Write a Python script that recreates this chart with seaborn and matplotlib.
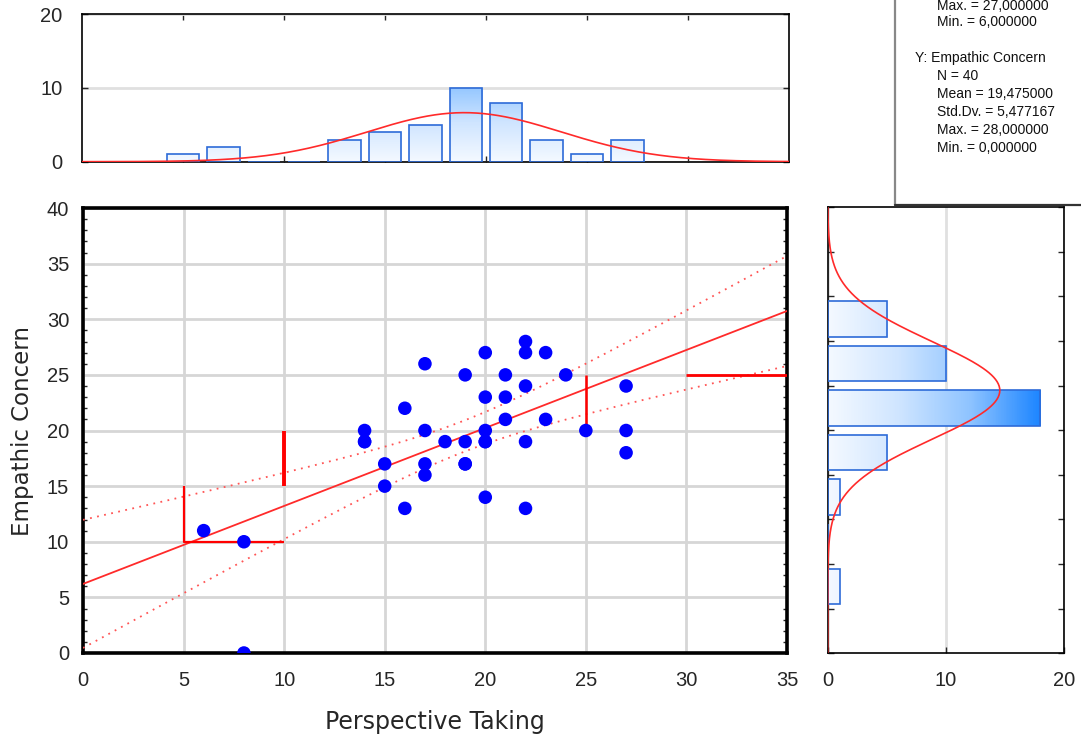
import numpy as np
import pandas as pd
import matplotlib
matplotlib.use("Agg")
import matplotlib.pyplot as plt
import seaborn as sns
from matplotlib.colors import LinearSegmentedColormap
from matplotlib.lines import Line2D

# ---------------- data ----------------
perspective_taking = [6, 8, 8, 14, 14, 14, 15, 15, 16, 16, 17, 17, 17, 17, 18,
                      19, 19, 19, 19, 20, 20, 20, 20, 20, 20, 21, 21, 21,
                      22, 22, 22, 22, 22, 23, 23, 24, 25, 27, 27, 27]
empathic_concern = [11, 10, 0, 20, 19, 19, 17, 15, 22, 13, 26, 20, 17, 16, 19,
                    25, 19, 17, 17, 27, 23, 20, 19, 19, 14, 25, 23, 21,
                    28, 27, 24, 19, 13, 27, 21, 25, 20, 24, 20, 18]

x_ticks = [0, 5, 10, 15, 20, 25, 30, 35]
y_ticks = [0, 5, 10, 15, 20, 25, 30, 35, 40]
top_hist_yticks = [0, 10, 20]
right_hist_xticks = [0, 10, 20]

# red step segments drawn in the scatter panel
step_x = [[5, 5, 10], [10, 10], [25, 25], [30, 35]]
step_y = [[15, 10, 10], [15, 20], [20, 25], [25, 25]]
step_w = [1.6, 2.8, 1.8, 2.0]

stats_lines = ["Max. = 27,000000", "Min. = 6,000000", "",
               "Y: Empathic Concern", "N = 40", "Mean = 19,475000",
               "Std.Dv. = 5,477167", "Max. = 28,000000", "Min. = 0,000000"]

# ---------------- style ----------------
sns.set_theme(style="white")
plt.rcParams["font.family"] = ["Liberation Sans", "DejaVu Sans"]

df = pd.DataFrame({"Perspective Taking": perspective_taking,
                   "Empathic Concern": empathic_concern})

W, H = 1081, 740
fig = plt.figure(figsize=(W / 100, H / 100), dpi=100)

def px_axes(l, t, r, b):
    return fig.add_axes([l / W, (H - b) / H, (r - l) / W, (b - t) / H])

ax = px_axes(83, 208, 787, 653)
axt = px_axes(82, 14, 789, 161.7)
axr = px_axes(827.7, 207.3, 1064, 653.3)

cmap = LinearSegmentedColormap.from_list("bl", ["#f4f9ff", "#cfe5ff", "#8fc4ff", "#1e86ff"])
edge_col = "#2d6bd8"
red = "#ff2a2a"

x = np.array(perspective_taking, float)
y = np.array(empathic_concern, float)
n = len(x)

# ---------------- scatter ----------------
ax.set_axisbelow(True)
ax.grid(True, color="#d6d6d6", lw=2)
sns.scatterplot(data=df, x="Perspective Taking", y="Empathic Concern", ax=ax,
                color="#0000ff", s=95, edgecolor="none", zorder=5)

slope, intercept = np.polyfit(x, y, 1)
xx = np.linspace(0, 35, 300)
yy = intercept + slope * xx
resid = y - (intercept + slope * x)
s_res = np.sqrt(np.sum(resid ** 2) / (n - 2))
sxx = np.sum((x - x.mean()) ** 2)
tval = 2.0244
half = tval * s_res * np.sqrt(1 / n + (xx - x.mean()) ** 2 / sxx)
ax.plot(xx, yy, color=red, lw=1.3, zorder=4)
ax.plot(xx, yy + half, color="#ff5555", lw=1.3, ls=(0, (1, 3)), zorder=4)
ax.plot(xx, yy - half, color="#ff5555", lw=1.3, ls=(0, (1, 3)), zorder=4)

for sx_, sy_, sw in zip(step_x, step_y, step_w):
    ax.plot(sx_, sy_, color="#ff0000", lw=sw, zorder=4, solid_capstyle="butt")

ax.set_xlim(0, 35)
ax.set_ylim(0, 40)
ax.set_xticks(x_ticks)
ax.set_yticks(y_ticks)
ax.set_yticks(np.arange(0, 41, 1), minor=True)
ax.tick_params(axis="both", which="major", direction="in", length=0, labelsize=14.5, pad=10)
ax.tick_params(axis="x", which="major", pad=13)
ax.tick_params(axis="y", which="minor", direction="in", length=3, width=1, left=True, right=True)
for sp in ax.spines.values():
    sp.set_color("black")
    sp.set_linewidth(2.6)
ax.set_xlabel("Perspective Taking", fontsize=17, labelpad=14, family=["DejaVu Sans"])
ax.set_ylabel("Empathic Concern", fontsize=16.5, labelpad=9, family=["DejaVu Sans"])

# ---------------- top histogram ----------------
xbins = np.arange(4, 29, 2) + 1e-9
sns.histplot(data=df, x="Perspective Taking", bins=xbins, shrink=0.8, ax=axt,
             edgecolor=edge_col, linewidth=1.2, facecolor="none", zorder=3)
for p in list(axt.patches):
    x0, y0 = p.get_x(), p.get_y()
    w, h = p.get_width(), p.get_height()
    if h <= 0:
        continue
    grad = np.linspace(0, h, 50).reshape(-1, 1)
    im = axt.imshow(grad, extent=[x0, x0 + w, 0, h], origin="lower", cmap=cmap,
                    vmin=0, vmax=16, aspect="auto", zorder=2)
    im.set_clip_path(p)
    p.set_facecolor("none")
gx = np.linspace(0, 35, 400)
pdfx = n * 2 / (x.std(ddof=1) * np.sqrt(2 * np.pi)) * np.exp(-0.5 * ((gx - x.mean()) / x.std(ddof=1)) ** 2)
axt.plot(gx, pdfx, color=red, lw=1.2, zorder=4)
axt.set_xlim(0, 35)
axt.set_ylim(0, 20)
axt.set_xticks(x_ticks[1:-1])
axt.set_yticks(top_hist_yticks)
axt.set_xticklabels([])
axt.yaxis.grid(True, color="#e0e0e0", lw=2)
axt.set_axisbelow(True)
axt.tick_params(axis="both", direction="in", length=4, width=1, top=True, bottom=True,
                left=True, right=True, labelsize=14.5, pad=10)
axt.tick_params(axis="y", pad=14)
axt.set_xlabel("")
axt.set_ylabel("")
for sp in axt.spines.values():
    sp.set_color("black")
    sp.set_linewidth(1.2)

# ---------------- right histogram ----------------
ybins = np.arange(-5, 31, 5) + 1e-9
sns.histplot(data=df, y="Empathic Concern", bins=ybins, shrink=0.8, ax=axr,
             edgecolor=edge_col, linewidth=1.2, facecolor="none", zorder=3)
for p in list(axr.patches):
    x0, y0 = p.get_x(), p.get_y()
    w, h = p.get_width(), p.get_height()
    if w <= 0:
        continue
    grad = np.linspace(0, w, 80).reshape(1, -1)
    im = axr.imshow(grad, extent=[0, w, y0, y0 + h], origin="lower", cmap=cmap,
                    vmin=0, vmax=18, aspect="auto", zorder=2)
    im.set_clip_path(p)
    p.set_facecolor("none")
gy = np.linspace(-10, 40, 400)
pdfy = n * 5 / (y.std(ddof=1) * np.sqrt(2 * np.pi)) * np.exp(-0.5 * ((gy - y.mean()) / y.std(ddof=1)) ** 2)
axr.plot(pdfy, gy, color=red, lw=1.2, zorder=4)
axr.set_xlim(0, 20)
axr.set_ylim(-10, 40)
axr.set_xticks(right_hist_xticks)
axr.set_yticks(np.arange(-10, 41, 5))
axr.set_yticklabels([])
axr.xaxis.grid(True, color="#e0e0e0", lw=2)
axr.set_axisbelow(True)
axr.tick_params(axis="both", direction="in", length=4, width=1, top=False, bottom=True,
                left=True, right=True, labelsize=14.5, pad=13)
axr.set_xlabel("")
axr.set_ylabel("")
for sp in axr.spines.values():
    sp.set_color("black")
    sp.set_linewidth(1.2)

# ---------------- stats box ----------------
fig.add_artist(Line2D([895 / W, 895 / W], [1, (H - 205) / H], color="#888888", lw=1.6))
fig.add_artist(Line2D([895 / W, 1], [(H - 205) / H, (H - 205) / H], color="#333333", lw=1.6))
ypos_list = [6, 22, 40, 58, 76, 94, 112, 130, 148]
for line, ypos in zip(stats_lines, ypos_list):
    if line:
        xp = 915 if line.startswith("Y:") else 937
        fig.text(xp / W, (H - ypos) / H, line, fontsize=10, va="center", ha="left",
                 color="#111111")

fig.savefig("out.png", dpi=100)
